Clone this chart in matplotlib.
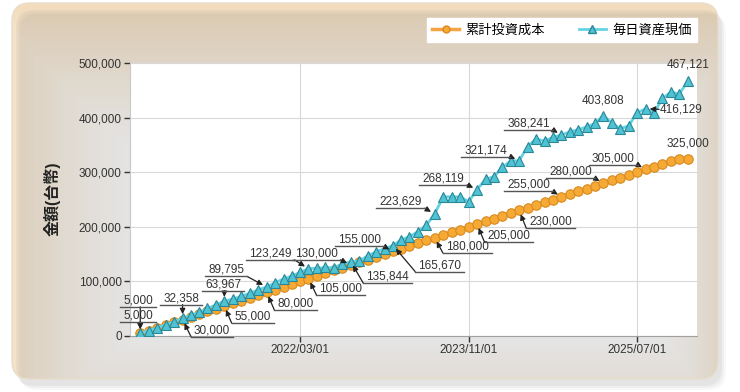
import numpy as np
import pandas as pd
import matplotlib
matplotlib.use('Agg')
import matplotlib.pyplot as plt
import matplotlib.dates as mdates
from matplotlib.patches import FancyBboxPatch
from matplotlib.lines import Line2D
from matplotlib.transforms import IdentityTransform

plt.rcParams['font.family'] = ['Liberation Sans', 'Noto Sans CJK JP', 'DejaVu Sans']

# data
dates = pd.date_range('2020-08-01', periods=66, freq='MS').to_pydatetime()
cost = [5000, 10000, 15000, 20000, 25000, 30000, 35000, 40000, 45000, 50000,
        55000, 60000, 65000, 70000, 75000, 80000, 85000, 90000, 95000, 100000,
        105000, 110000, 115000, 120000, 125000, 130000, 135000, 140000, 145000, 150000,
        155000, 160000, 165000, 170000, 175000, 180000, 185000, 190000, 195000, 200000,
        205000, 210000, 215000, 220000, 225000, 230000, 235000, 240000, 245000, 250000,
        255000, 260000, 265000, 270000, 275000, 280000, 285000, 290000, 295000, 300000,
        305000, 310000, 315000, 320000, 325000, 325000]
value = [5000, 9800, 15200, 20500, 26000, 32358, 37800, 43500, 50500, 57000,
         63967, 67500, 72800, 78200, 84500, 89795, 97500, 104500, 110000, 116500,
         123249, 124000, 125500, 125000, 132000, 135844, 137000, 147000, 154000, 160000,
         165670, 176000, 182000, 191000, 203000, 223629, 255000, 255000, 255000, 246000,
         268119, 287000, 292000, 309000, 320500, 321174, 347000, 361000, 357000, 364000,
         368241, 374000, 378000, 383000, 389500, 403808, 390700, 380000, 384600, 409000,
         416129, 409000, 435000, 447000, 443000, 467121]
series_names = ['累計投資成本', '毎日資産現価']
xtick_dates = ['2022-03-01', '2023-11-01', '2025-07-01']
yticks = [0, 100000, 200000, 300000, 400000, 500000]

label_idx = [0, 5, 10, 15, 20, 25, 30, 35, 40, 45, 50, 55, 60, 65]
# label offsets in pixels (dx right, dy down) and leader style
cost_off = [(-2, -18), (29.5, 10.4), (28.5, 10.7), (28.7, 11), (32.4, 9.6), (-34.8, -11.7),
            (-33.7, -11.4), (32.6, 8.6), (32, 11.7), (31.6, 11.3), (-33, -11.8), (-32.7, -11.3),
            (-32.3, -11.2), (0, -15)]
cost_sty = ['u'] * 13 + ['n']
value_off = [(-2, -33), (-1.5, -20.3), (-1.2, -16.7), (-40.5, -17), (-38.4, -15.4), (36.9, 14.9),
             (46.5, 19.5), (-34.1, -12.2), (-33.7, -11.3), (-33.4, -10.6), (-33, -11.7), (0, -15.5),
             (36, 0.5), (0, -16)]
value_sty = ['u'] * 11 + ['n', 'a', 'n']

W, H = 740, 392
fig = plt.figure(figsize=(W / 100, H / 100), dpi=100, facecolor='white')

# background panel
bg = fig.add_axes([0, 0, 1, 1], zorder=-10)
bg.set_xlim(0, W)
bg.set_ylim(H, 0)
bg.axis('off')
for k, a in enumerate([0.05, 0.07, 0.09]):
    sh = FancyBboxPatch((14 + 2 * (3 - k), 8 + 2 * (3 - k)), 706, 376,
                        boxstyle='round,pad=0,rounding_size=18', fc='#808080', ec='none', alpha=a)
    bg.add_patch(sh)
panel = FancyBboxPatch((12, 3), 706, 376, boxstyle='round,pad=0,rounding_size=18',
                       fc='none', ec='#e8dccb', lw=1)
bg.add_patch(panel)
yy, xx = np.mgrid[0:H, 0:W]
fy = np.clip(1 - (yy - 5) / 150.0, 0, 1) ** 1.2
fl = np.clip(1 - (xx - 12) / 130.0, 0, 1) ** 1.4 * 0.8
fr = np.clip(1 - (718 - xx) / 60.0, 0, 1) ** 1.5 * 0.6
fb = np.clip(1 - (380 - yy) / 40.0, 0, 1) * 0.3
f = np.maximum.reduce([fy, fl, fr, fb])[..., None]
beige = np.array([242, 220, 188]) / 255.0
grad = 1 - f * (1 - beige)
im = bg.imshow(grad, extent=(0, W, H, 0), aspect='auto', zorder=0)
im.set_clip_path(panel)

ax = fig.add_axes([130 / W, 1 - 336 / H, 567 / W, 273 / H])
ax.set_facecolor('white')

ax.plot(dates, cost, color='#F4A440', lw=2.5, marker='o', ms=6.8,
        mfc='#F7A935', mec='#D88A1F', mew=0.8, zorder=3)
ax.plot(dates, value, color='#63D3E3', lw=2, marker='^', ms=7.5,
        mfc='#4FC3D3', mec='#2A8797', mew=0.8, zorder=4)

ax.set_xlim(pd.Timestamp('2020-06-25'), pd.Timestamp('2026-02-03'))
ax.set_ylim(0, 500000)
ax.set_yticks(yticks)
ax.yaxis.set_major_formatter(matplotlib.ticker.FuncFormatter(lambda v, p: f'{int(v):,}'))
ax.set_xticks([pd.Timestamp(d) for d in xtick_dates])
ax.xaxis.set_major_formatter(mdates.DateFormatter('%Y/%m/%d'))
ax.tick_params(axis='both', labelsize=8.5, colors='#333333', length=4, width=1, pad=2)
ax.grid(True, color='#d8d8d8', lw=0.8)
ax.set_axisbelow(True)
for s in ['top', 'right']:
    ax.spines[s].set_visible(False)
ax.spines['left'].set_color('#c8c8c8')
ax.spines['bottom'].set_color('#a0a0a0')

fig.text(52 / W, 1 - 199 / H, '金額(台幣)', rotation=90, ha='center', va='center',
         fontsize=11.5, fontweight='bold', color='#222222')

handles = [Line2D([], [], color='#F4A440', lw=2.5, marker='o', ms=5, mfc='#F7A935', mec='#D88A1F'),
           Line2D([], [], color='#63D3E3', lw=2, marker='^', ms=5.5, mfc='#4FC3D3', mec='#2A8797')]
fig.legend(handles, series_names, loc='center', bbox_to_anchor=(562 / W, 1 - 30 / H), ncol=2,
           frameon=True, facecolor='white', edgecolor='white', fancybox=False, framealpha=1,
           handlelength=2.0, columnspacing=2.6, handletextpad=0.5,
           borderpad=0.4, prop={'family': ['Noto Sans CJK JP'], 'size': 9.5})

fig.canvas.draw()
renderer = fig.canvas.get_renderer()
xnum = mdates.date2num(dates)
arrow = dict(arrowstyle='-|>', color='#222222', lw=0.9, shrinkA=0, shrinkB=3, mutation_scale=8)


def add_labels(vals, offs, stys):
    for i, (dx, dy), sty in zip(label_idx, offs, stys):
        px, py = ax.transData.transform((xnum[i], vals[i]))
        t = ax.annotate(f'{vals[i]:,}', xy=(xnum[i], vals[i]), xytext=(dx, -dy),
                        textcoords='offset pixels', ha='center', va='center',
                        fontsize=8.5, color='#333333', zorder=6, annotation_clip=False)
        bb = t.get_window_extent(renderer)
        if sty == 'u':
            uy = bb.y0 - 0.5
            u0, u1 = bb.x0 - 3, bb.x1 + 3
            fig.add_artist(Line2D([u0, u1], [uy, uy], transform=IdentityTransform(),
                                  color='#555555', lw=1))
            sx = min(max(px, u0), u1)
            ax.annotate('', xy=(xnum[i], vals[i]), xytext=(sx, uy), textcoords='figure pixels',
                        arrowprops=arrow, zorder=6, annotation_clip=False)
        elif sty == 'a':
            ax.annotate('', xy=(xnum[i], vals[i]), xytext=(bb.x0 - 1, (bb.y0 + bb.y1) / 2),
                        textcoords='figure pixels', arrowprops=arrow,
                        zorder=6, annotation_clip=False)


add_labels(cost, cost_off, cost_sty)
add_labels(value, value_off, value_sty)

fig.savefig('out.png', dpi=100, facecolor='white')
